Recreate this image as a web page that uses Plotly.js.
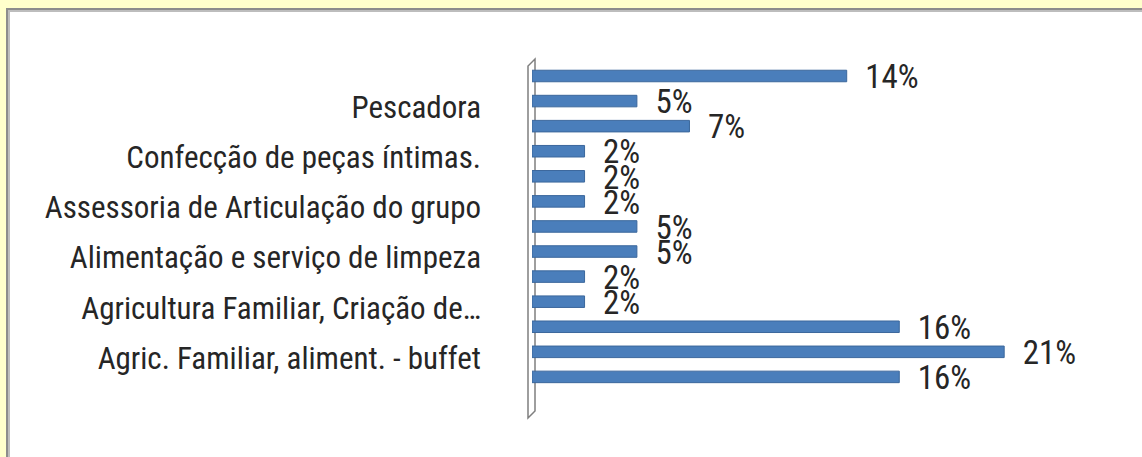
<!DOCTYPE html>
<html>
<head>
<meta charset="utf-8">
<script src="https://cdn.plot.ly/plotly-3.0.1.min.js"></script>
<style>html,body{margin:0;padding:0;background:#FFFFCC;}#chart{width:1142px;height:457px;}</style>
</head>
<body>
<div id="chart"></div>
<script>
// Share of each bar (percent), top to bottom
const values = [13.95, 4.65, 6.98, 2.33, 2.33, 2.33, 4.65, 4.65, 2.33, 2.33, 16.28, 20.93, 16.28];
// Category labels that are shown (every other category), and the bar index they belong to
const shownLabels = [
  "Pescadora",
  "Confecção de peças íntimas.",
  "Assessoria de Articulação do grupo",
  "Alimentação e serviço de limpeza",
  "Agricultura Familiar, Criação de…",
  "Agric. Familiar, aliment. - buffet"
];
const shownIndex = [1, 3, 5, 7, 9, 11];

const W = 1142, H = 457;
const L = 532, R = 1100, T = 55, B = 420;
const px = x => (x - L) / (R - L);
const py = y => (B - y) / (B - T);

const idx = values.map((v, i) => i);
const FONT = "Liberation Sans Narrow, Arial Narrow, Roboto Condensed, Liberation Sans, sans-serif";

const bars = {
  type: 'bar', orientation: 'h',
  x: values, y: idx,
  width: 0.46,
  marker: {color: '#4a7ebb', line: {color: '#3b679c', width: 1}},
  hoverinfo: 'skip', showlegend: false
};
const labels = {
  type: 'scatter', mode: 'text+markers',
  x: values, y: idx.map(i => i + 0.16),
  marker: {size: 28, opacity: 0},
  texttemplate: '%{x:.0f}%',
  textposition: 'middle right',
  textfont: {family: FONT, size: 33, color: '#262626'},
  cliponaxis: false, hoverinfo: 'skip', showlegend: false
};

const rect = (x0, y0, x1, y1, fill) => ({
  type: 'rect', xref: 'paper', yref: 'paper', layer: 'below',
  x0: px(x0), x1: px(x1), y0: py(y0), y1: py(y1),
  fillcolor: fill, line: {width: 0}
});

const wallPath = 'M ' + px(528) + ',' + py(418) + ' L ' + px(528) + ',' + py(66) +
  ' L ' + px(535) + ',' + py(59) + ' L ' + px(535) + ',' + py(411) + ' Z';

const layout = {
  width: W, height: H,
  margin: {l: L, r: W - R, t: T, b: H - B, pad: 0},
  paper_bgcolor: '#FFFFCC', plot_bgcolor: 'rgba(0,0,0,0)',
  xaxis: {range: [0, (R - L) / 22.56], visible: false, fixedrange: true},
  yaxis: {
    range: [12 + (B - 376.9) / 25.08, -(76 - T) / 25.08],
    tickmode: 'array',
    tickvals: shownIndex.map(i => i + 0.24),
    ticktext: shownLabels,
    showgrid: false, zeroline: false, showline: false, ticks: '',
    ticklabelstandoff: 50,
    tickfont: {family: FONT, size: 31, color: '#262626'},
    fixedrange: true
  },
  shapes: [
    rect(6, 8, 1160, 470, '#8c8c8c'),
    rect(8, 10, 1160, 470, '#bdbdbd'),
    rect(10, 12, 1160, 470, '#ffffff'),
    {type: 'path', xref: 'paper', yref: 'paper', layer: 'below', path: wallPath,
     fillcolor: '#ffffff', line: {color: '#7f7f7f', width: 1.5}}
  ]
};

Plotly.newPlot('chart', [bars, labels], layout, {displayModeBar: false, staticPlot: true});
</script>
</body>
</html>
